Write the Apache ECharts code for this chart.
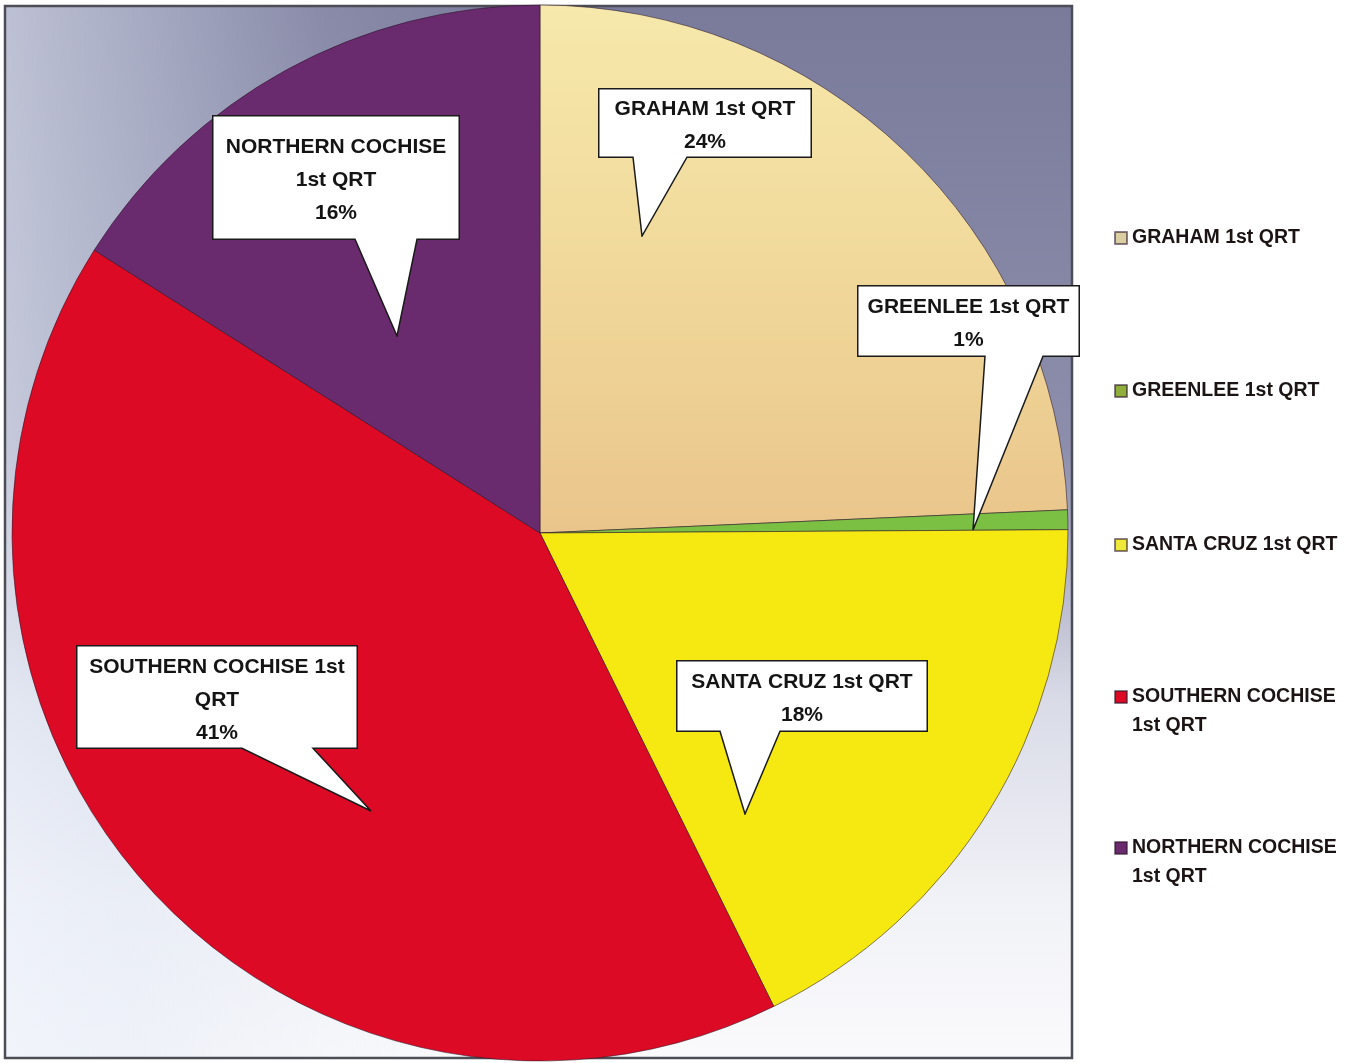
<!DOCTYPE html>
<html><head><meta charset="utf-8">
<script src="https://cdn.jsdelivr.net/npm/echarts@6/dist/echarts.min.js"></script>
<style>html,body{margin:0;padding:0;background:#fff}#c{width:1356px;height:1063px}</style>
</head><body><div id="c"></div>
<script>
// ---- data ----
const categories = ['GRAHAM 1st QRT', 'GREENLEE 1st QRT', 'SANTA CRUZ 1st QRT', 'SOUTHERN COCHISE 1st QRT', 'NORTHERN COCHISE 1st QRT'];
const shares = [24.3, 0.6, 17.8, 41.3, 16.0];

// ---- styles / layout ----
const sliceColors = [
  new echarts.graphic.LinearGradient(0, 0, 0, 1, [{offset: 0, color: '#f6e9ab'}, {offset: 0.6, color: '#efd597'}, {offset: 1, color: '#eac58b'}]),
  '#7cc043',
  '#f6e912',
  '#dc0a24',
  '#6a2b6e'
];
const legendColors = ['#d9cfa2', '#8fae3c', '#eeea3a', '#dc0a24', '#6a2b6e'];
const FONT = '"Liberation Sans", Arial, sans-serif';
const LH = 33;
const TEXT_SHIFT = 3;
// callout boxes (pixel layout of the annotation boxes): box [x0,y0,x1,y1], pointer base [xa,xb], tip [x,y],
// breakAfter = words of the name kept on the first line
const callouts = [
  {box: [598, 88, 812, 158], base: [633, 687], tip: [642, 237], breakAfter: 0},
  {box: [857, 285, 1080, 357], base: [985, 1043], tip: [973, 531], breakAfter: 0},
  {box: [676, 660, 928, 732], base: [720, 780], tip: [745, 815], breakAfter: 0},
  {box: [76, 645, 358, 749], base: [242, 313], tip: [372, 812], breakAfter: 3},
  {box: [212, 115, 460, 240], base: [355, 417], tip: [397, 337], breakAfter: 2}
];
const PAD = 4;
function calloutGeom(c) {
  const [bx0, by0, bx1, by1] = c.box;
  const [tx, ty] = c.tip;
  const X0 = Math.min(bx0, tx), X1 = Math.max(bx1, tx), Y0 = by0, Y1 = Math.max(by1, ty);
  const W = X1 - X0, H = Y1 - Y0, bh = by1 - by0;
  const lines = c.breakAfter ? 3 : 2;
  const contentH = lines * LH;
  const pt = (bh - contentH) / 2 + TEXT_SHIFT;
  const pb = H - pt - contentH;
  const pl = bx0 - X0 + PAD, pr = X1 - bx1 + PAD;
  const cw = bx1 - bx0 - 2 * PAD;
  const s = 0.75;
  const d = 'M' + (bx0 - X0 + s) + ' ' + s + ' H' + (bx1 - X0 - s) + ' V' + (bh - s) +
    ' H' + (c.base[1] - X0) + ' L' + (tx - X0 - (tx - X0 >= W - 1 ? 1 : 0)) + ' ' + (ty - Y0 - 1) +
    ' L' + (c.base[0] - X0) + ' ' + (bh - s) + ' H' + (bx0 - X0 + s) + ' Z';
  const svg = '<svg xmlns="http://www.w3.org/2000/svg" width="' + W + '" height="' + H + '" viewBox="0 0 ' + W + ' ' + H +
    '" preserveAspectRatio="none"><path d="' + d + '" fill="#ffffff" stroke="#1a1a1a" stroke-width="1.5" stroke-linejoin="miter"/></svg>';
  return {X0, Y0, W, H, pt, pb, pl, pr, cw,
    url: 'data:image/svg+xml;charset=utf-8,' + encodeURIComponent(svg)};
}
const geoms = callouts.map(calloutGeom);

const chart = echarts.init(document.getElementById('c'));

const LLH = 29;
const legends = [
  {center: 238, two: false},
  {center: 391, two: false},
  {center: 545, two: false},
  {center: 697, two: true},
  {center: 848, two: true}
].map((l, i) => ({
  orient: 'vertical',
  left: 1114,
  top: l.two ? l.center - 1.5 * LLH : l.center - LLH / 2,
  padding: 0,
  itemWidth: 12,
  itemHeight: 12,
  icon: 'rect',
  selectedMode: false,
  data: [{name: categories[i], itemStyle: {color: legendColors[i]}}],
  formatter: l.two ? (name => '\n' + name) : (name => name),
  textStyle: Object.assign({
    fontFamily: FONT, fontWeight: 'bold', fontSize: 19.5, color: '#1c1414', lineHeight: LLH
  }, l.two ? {width: 215, overflow: 'break'} : {})
}));

const plotRect = {x: 5, y: 6, width: 1067, height: 1052};

chart.setOption({
  animation: false,
  backgroundColor: '#ffffff',
  graphic: [{
    type: 'rect', z: -10, silent: true,
    shape: plotRect,
    style: {
      fill: new echarts.graphic.LinearGradient(0, 0, 0, 1, [
        {offset: 0, color: '#7a7b9b'},
        {offset: 0.42, color: '#8c8eab'},
        {offset: 0.66, color: '#d9dbe7'},
        {offset: 0.85, color: '#f1f2f7'},
        {offset: 1, color: '#fafafc'}
      ])
    }
  }, {
    type: 'rect', z: -9, silent: true,
    shape: plotRect,
    style: {
      fill: new echarts.graphic.LinearGradient(0, 0, 1, 0, [
        {offset: 0, color: 'rgba(235,240,250,0.6)'},
        {offset: 0.12, color: 'rgba(225,232,245,0.45)'},
        {offset: 0.3, color: 'rgba(220,228,242,0.15)'},
        {offset: 0.5, color: 'rgba(220,228,242,0)'}
      ])
    }
  }, {
    type: 'rect', z: -8, silent: true,
    shape: plotRect,
    style: {fill: 'none', stroke: '#4d4d55', lineWidth: 2.5}
  }],
  legend: legends,
  series: [{
    type: 'pie',
    center: [540, 533],
    radius: 528,
    startAngle: 90,
    clockwise: true,
    percentPrecision: 0,
    avoidLabelOverlap: false,
    emphasis: {disabled: true},
    itemStyle: {borderColor: 'rgba(40,20,40,0.55)', borderWidth: 1},
    label: {
      show: true,
      position: 'inside',
      formatter: function (p) {
        const k = callouts[p.dataIndex].breakAfter;
        const w = p.name.split(' ');
        const nm = k ? w.slice(0, k).join(' ') + '\n' + w.slice(k).join(' ') : p.name;
        return nm + '\n' + p.percent + '%';
      },
      fontFamily: FONT,
      fontWeight: 'bold',
      fontSize: 21,
      lineHeight: LH,
      color: '#141414',
      align: 'center'
    },
    labelLine: {show: false},
    labelLayout: function (p) {
      const g = geoms[p.dataIndex];
      return {x: g.X0 + g.W / 2, y: g.Y0, align: 'center', verticalAlign: 'top', hideOverlap: false};
    },
    data: categories.map((name, i) => ({
      name: name,
      value: shares[i],
      itemStyle: {color: sliceColors[i]},
      label: {
        width: geoms[i].cw,
        padding: [geoms[i].pt, geoms[i].pr, geoms[i].pb, geoms[i].pl],
        backgroundColor: {image: geoms[i].url}
      }
    }))
  }]
});
</script>
</body></html>
